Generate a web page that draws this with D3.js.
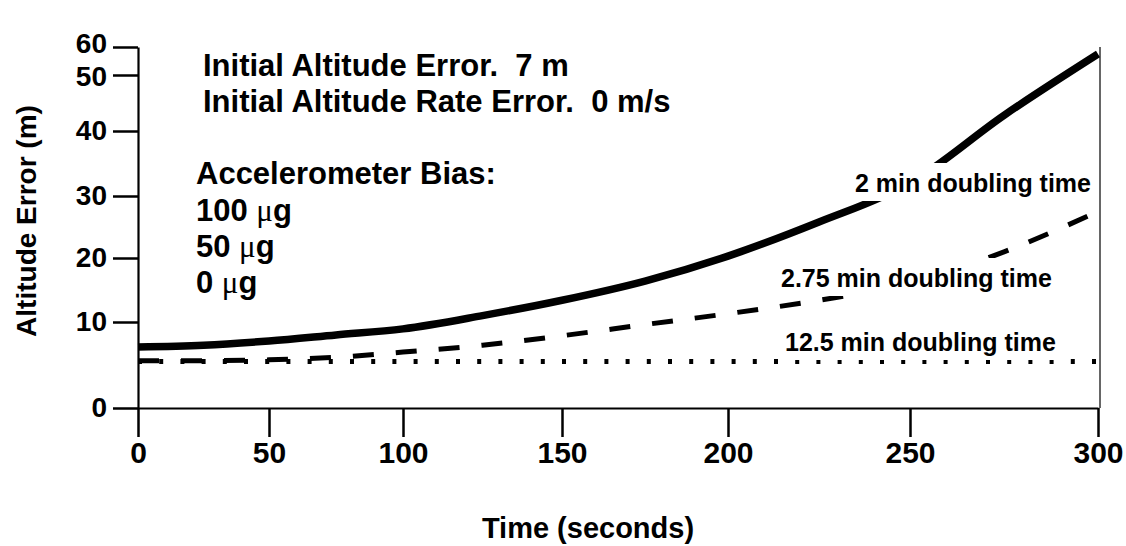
<!DOCTYPE html>
<html>
<head>
<meta charset="utf-8">
<script src="https://cdn.jsdelivr.net/npm/d3@7"></script>
<style>
  body { margin: 0; background: #fff; }
  text { font-family: "Liberation Sans", Arial, sans-serif; font-weight: bold; fill: #000; white-space: pre; }
</style>
</head>
<body>
<div id="chart-area"></div>
<script>
// data
const times = [0, 25, 50, 75, 100, 125, 150, 175, 200, 225, 250, 275, 300]
const bias100 = [7.1, 7.3, 7.8, 8.5, 9.2, 11.0, 13.4, 16.4, 20.3, 25.8, 32, 42.8, 57.5]
const bias50 = [5.5, 5.5, 5.6, 5.9, 6.5, 7.3, 8.4, 9.7, 11.3, 13.4, 16.1, 21, 27.5]
const bias0 = [5.4, 5.4, 5.4, 5.4, 5.4, 5.4, 5.4, 5.4, 5.4, 5.4, 5.4, 5.4, 5.4]
const xTicks = [0, 50, 100, 150, 200, 250, 300]
const yTicks = [0, 10, 20, 30, 40, 50, 60]
const notes = ["Initial Altitude Error.  7 m", "Initial Altitude Rate Error.  0 m/s"]
const biasLabels = ["100", "50", "0"]
const curveLabels = ["2 min doubling time", "2.75 min doubling time", "12.5 min doubling time"]

const WIDTH = 1126
const HEIGHT = 546

const svg = d3.select("#chart-area").append("svg")
  .attr("width", WIDTH)
  .attr("height", HEIGHT)

// the scanned figure has uneven tick spacing, so the scales are piecewise
const x = d3.scaleLinear()
  .domain(xTicks)
  .range([138, 269, 403, 562, 728, 910, 1098])

const y = d3.scaleLinear()
  .domain(yTicks)
  .range([408, 322, 258, 196, 131, 75, 47])

// right frame line
svg.append("line")
  .attr("x1", x(300) + 2).attr("x2", x(300) + 2)
  .attr("y1", y(60)).attr("y2", y(0))
  .attr("stroke", "#333").attr("stroke-width", 1.5)

// lines
const line = d3.line()
  .x((d, i) => x(times[i]))
  .y(d => y(d))
  .curve(d3.curveMonotoneX)

svg.append("path")
  .datum(bias0)
  .attr("d", line)
  .attr("fill", "none")
  .attr("stroke", "#000")
  .attr("stroke-width", 5)
  .attr("stroke-dasharray", "4,17.2")

svg.append("path")
  .datum(bias50)
  .attr("d", line)
  .attr("fill", "none")
  .attr("stroke", "#000")
  .attr("stroke-width", 5)
  .attr("stroke-dasharray", "21,22")

svg.append("path")
  .datum(bias100)
  .attr("d", line)
  .attr("fill", "none")
  .attr("stroke", "#000")
  .attr("stroke-width", 7.5)

// axes
const xAxisCall = d3.axisBottom(x)
  .tickValues(xTicks)
  .tickSize(29)
  .tickSizeOuter(0)
  .tickPadding(5)
const xg = svg.append("g")
  .attr("transform", `translate(0, ${y(0)})`)
  .call(xAxisCall)
xg.select(".domain").attr("stroke-width", 2.2)
xg.selectAll(".tick line").attr("stroke-width", 2.5)
xg.selectAll("text")
  .attr("font-size", 30)
  .attr("font-family", "Liberation Sans, Arial, sans-serif")
  .attr("font-weight", "bold")

const yAxisCall = d3.axisLeft(y)
  .tickValues(yTicks)
  .tickSize(25)
  .tickSizeOuter(0)
  .tickPadding(6)
const yg = svg.append("g")
  .attr("transform", `translate(${x(0)}, 0)`)
  .call(yAxisCall)
yg.select(".domain").attr("stroke-width", 2.2)
yg.selectAll(".tick line").attr("stroke-width", 2.5)
yg.selectAll("text")
  .attr("font-size", 28)
  .attr("font-family", "Liberation Sans, Arial, sans-serif")
  .attr("font-weight", "bold")
  .attr("y", d => d === 60 ? -3 : (d === 50 ? 2 : 0))

// axis labels
svg.append("text")
  .attr("x", 588)
  .attr("y", 538)
  .attr("text-anchor", "middle")
  .attr("font-size", 29)
  .text("Time (seconds)")

svg.append("text")
  .attr("transform", "translate(36, 221) rotate(-90)")
  .attr("text-anchor", "middle")
  .attr("font-size", 28)
  .text("Altitude Error (m)")

// annotation block
notes.forEach((t, i) => {
  svg.append("text")
    .attr("x", 203)
    .attr("y", 76 + i * 36)
    .attr("font-size", 31)
    .text(t)
})

svg.append("text")
  .attr("x", 196)
  .attr("y", 184)
  .attr("font-size", 31)
  .text("Accelerometer Bias:")

biasLabels.forEach((b, i) => {
  const t = svg.append("text")
    .attr("x", 196)
    .attr("y", 221 + i * 36)
    .attr("font-size", 31)
  t.append("tspan").text(b + " ")
  t.append("tspan")
    .style("font-family", "Liberation Serif, serif")
    .style("font-weight", "normal")
    .text("\u03bc")
  t.append("tspan").text("g")
})

// curve labels with white backing
const labelPos = [
  { x: 1091, y: 192, anchor: "end" },
  { x: 781, y: 287, anchor: "start" },
  { x: 785, y: 351, anchor: "start" }
]
curveLabels.forEach((t, i) => {
  const p = labelPos[i]
  const g = svg.append("g")
  const txt = g.append("text")
    .attr("x", p.x)
    .attr("y", p.y)
    .attr("text-anchor", p.anchor)
    .attr("font-size", 25)
    .text(t)
  const bb = txt.node().getBBox()
  g.insert("rect", "text")
    .attr("x", bb.x - 6)
    .attr("y", bb.y - 6)
    .attr("width", bb.width + 12)
    .attr("height", bb.height + 10)
    .attr("fill", "#fff")
})
</script>
</body>
</html>
